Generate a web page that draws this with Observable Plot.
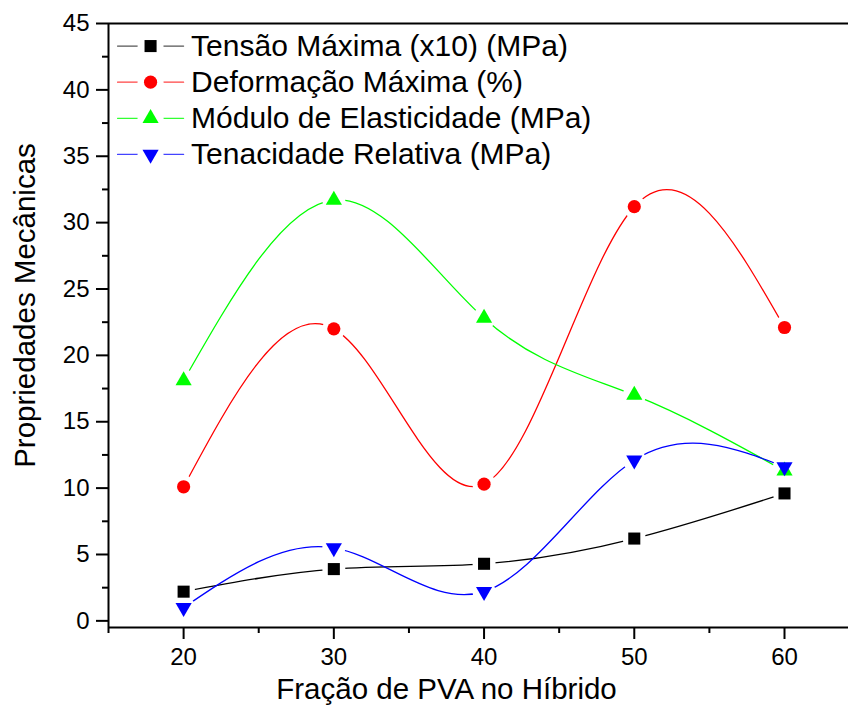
<!DOCTYPE html>
<html>
<head>
<meta charset="utf-8">
<script src="https://cdn.jsdelivr.net/npm/d3@7"></script>
<script src="https://cdn.jsdelivr.net/npm/@observablehq/plot@0.6"></script>
<style>
  html, body { margin: 0; padding: 0; background: #fff; }
  #chart { width: 848px; height: 713px; }
</style>
</head>
<body>
<div id="chart"></div>
<script>
// Fração de PVA (%) em cada híbrido
const fracao = [20, 30, 40, 50, 60];

// Propriedades mecânicas medidas
const tensao = [2.2, 3.9, 4.3, 6.2, 9.6];         // Tensão Máxima (x10) (MPa)
const deformacao = [10.1, 22.0, 10.3, 31.2, 22.1]; // Deformação Máxima (%)
const modulo = [18.1, 31.7, 22.8, 17.0, 11.3];     // Módulo de Elasticidade (MPa)
const tenacidade = [1.0, 5.5, 2.2, 12.1, 11.6];    // Tenacidade Relativa (MPa)

const seriesNames = [
  "Tensão Máxima (x10) (MPa)",
  "Deformação Máxima (%)",
  "Módulo de Elasticidade (MPa)",
  "Tenacidade Relativa (MPa)"
];
const seriesValues = [tensao, deformacao, modulo, tenacidade];
const seriesColors = ["#000000", "#ff0000", "#00ff00", "#0000ff"];
const legendLineColors = ["#555555", "#ff4444", "#33ff33", "#4444ff"];
const seriesSymbols = ["square", "circle", "triangle", "triangle"];
const seriesRotate = [0, 0, 0, 180];
const seriesRadius = [6.8, 6.6, 6.0, 6.0];

const xMajor = [20, 30, 40, 50, 60];
const xMinor = [15, 25, 35, 45, 55];
const yMajor = d3.range(0, 46, 5);
const yMinor = d3.range(2.5, 45, 5);

const xTitle = "Fração de PVA no Híbrido";
const yTitle = "Propriedades Mecânicas";

// One record per measured point
const series = seriesNames.map((name, i) => ({
  name, i,
  color: seriesColors[i],
  rows: fracao.map((x, j) => ({x, y: seriesValues[i][j]}))
}));

// Legend entries laid out in data units, top-left of the frame
const legendRows = series.map(s => ({...s, ly: 43.3 - s.i * 2.72}));

const marks = [];

// Smooth curves through the points
for (const s of series) {
  marks.push(Plot.line(s.rows, {x: "x", y: "y", stroke: s.color, strokeWidth: 1.3, curve: "natural"}));
}
// Legend sample lines
for (const s of legendRows) {
  marks.push(Plot.line([{x: 15.6, y: s.ly}, {x: 20.0, y: s.ly}], {x: "x", y: "y", stroke: legendLineColors[s.i], strokeWidth: 1.2}));
}
// White halos leave the usual gap between each line and its symbol
for (const s of series) {
  marks.push(Plot.dot(s.rows, {x: "x", y: "y", r: 11.5, fill: "white", stroke: null}));
}
marks.push(Plot.dot(legendRows, {x: () => 17.8, y: "ly", r: 13, fill: "white", stroke: null}));

// Symbols
for (const s of series) {
  marks.push(Plot.dot(s.rows, {
    x: "x", y: "y", fill: s.color, stroke: null,
    symbol: seriesSymbols[s.i], rotate: seriesRotate[s.i], r: seriesRadius[s.i]
  }));
  marks.push(Plot.dot([legendRows[s.i]], {
    x: () => 17.8, y: "ly", fill: s.color, stroke: null,
    symbol: seriesSymbols[s.i], rotate: seriesRotate[s.i], r: seriesRadius[s.i]
  }));
}
marks.push(Plot.text(legendRows, {
  x: () => 20.5, y: "ly", text: "name", textAnchor: "start",
  fontSize: 30, fill: "black"
}));

// Axes and frame
marks.push(
  Plot.axisY({ticks: yMajor, tickSize: 12, tickPadding: 7, fontSize: 24, strokeWidth: 2, label: null, tickFormat: d => String(d)}),
  Plot.axisY({ticks: yMinor, tickSize: 6, strokeWidth: 2, label: null, tickFormat: () => ""}),
  Plot.axisX({ticks: xMajor, tickSize: 12, tickPadding: 8, fontSize: 24, strokeWidth: 2, label: null, tickFormat: d => String(d)}),
  Plot.axisX({ticks: xMinor, tickSize: 6, strokeWidth: 2, label: null, tickFormat: () => ""}),
  Plot.ruleX([15], {strokeWidth: 2}),
  Plot.ruleY([-0.5], {strokeWidth: 2}),
  Plot.ruleY([45], {strokeWidth: 2}),
  Plot.text([xTitle], {frameAnchor: "bottom", text: d => d, textAnchor: "middle", dx: -32, dy: 71, fontSize: 29.5, fill: "black"}),
  Plot.text([yTitle], {frameAnchor: "left", text: d => d, textAnchor: "middle", rotate: -90, dx: -83, dy: -20, fontSize: 29.5, fill: "black"})
);

const chart = Plot.plot({
  width: 848,
  height: 713,
  marginLeft: 108,
  marginRight: 0,
  marginTop: 23,
  marginBottom: 86,
  x: {domain: [15, 64.26]},
  y: {domain: [-0.5, 45]},
  style: {fontFamily: "'Liberation Sans', Arial, sans-serif", background: "white", color: "black", overflow: "visible"},
  marks
});
document.getElementById("chart").append(chart);
</script>
</body>
</html>
